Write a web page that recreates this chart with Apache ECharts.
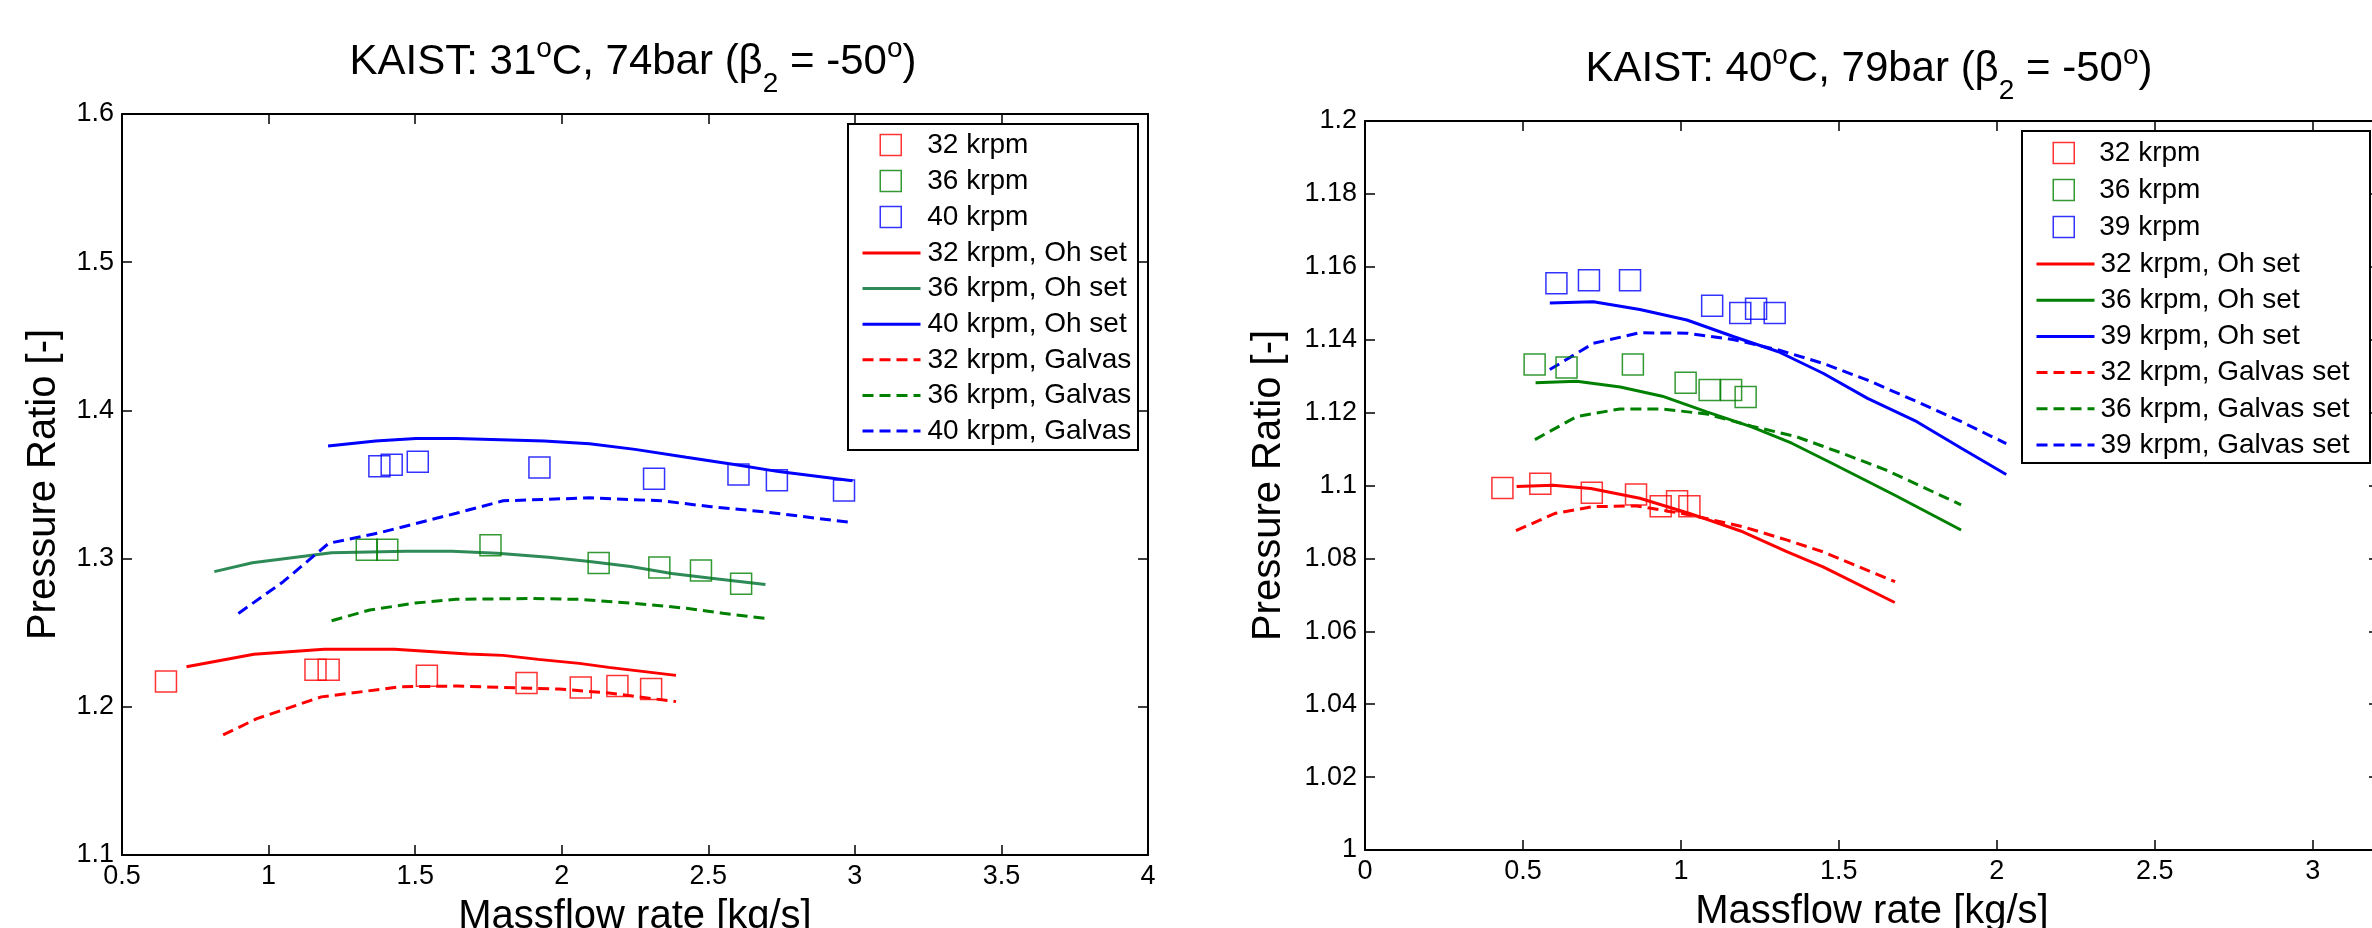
<!DOCTYPE html>
<html><head><meta charset="utf-8">
<script src="https://cdn.jsdelivr.net/npm/echarts@6/dist/echarts.min.js"></script>
<style>html,body{margin:0;padding:0;background:#fff}#c{width:2372px;height:928px}</style>
</head><body><div id="c"></div>
<script>
// ---------- Left chart: KAIST 31°C, 74 bar ----------
const L_exp32 = [[0.65,1.217],[1.16,1.225],[1.205,1.225],[1.54,1.221],[1.88,1.216],[2.065,1.213],[2.19,1.214],[2.305,1.212]];
const L_exp36 = [[1.335,1.306],[1.405,1.306],[1.757,1.309],[2.126,1.297],[2.333,1.294],[2.475,1.292],[2.612,1.283]];
const L_exp40 = [[1.378,1.3623],[1.42,1.3633],[1.509,1.3654],[1.924,1.3614],[2.315,1.3538],[2.603,1.3567],[2.734,1.3528],[2.963,1.346]];
const L_oh32 = [[0.72,1.227],[0.95,1.2355],[1.19,1.2388],[1.43,1.2388],[1.68,1.2356],[1.8,1.2347],[1.92,1.232],[2.06,1.2293],[2.16,1.2266],[2.39,1.2212]];
const L_oh36 = [[0.815,1.2912],[0.945,1.2972],[1.215,1.304],[1.47,1.3049],[1.625,1.3049],[1.78,1.3036],[1.955,1.3009],[2.095,1.298],[2.235,1.2946],[2.375,1.29],[2.51,1.2867],[2.695,1.2826]];
const L_oh40 = [[1.203,1.376],[1.365,1.3794],[1.503,1.381],[1.64,1.381],[1.94,1.3793],[2.095,1.3775],[2.25,1.3737],[2.425,1.3684],[2.6,1.3632],[2.74,1.3587],[2.992,1.3526]];
const L_gal32 = [[0.845,1.181],[0.96,1.192],[1.18,1.2067],[1.45,1.2135],[1.64,1.214],[1.99,1.212],[2.16,1.2093],[2.39,1.2035]];
const L_gal36 = [[1.215,1.2581],[1.345,1.2653],[1.5,1.27],[1.64,1.2725],[1.9,1.2731],[2.06,1.2725],[2.25,1.2698],[2.425,1.2665],[2.55,1.2631],[2.695,1.2597]];
const L_gal40 = [[0.897,1.263],[1.05,1.2844],[1.205,1.3103],[1.38,1.3175],[1.64,1.3306],[1.8,1.339],[2.095,1.341],[2.34,1.339],[2.51,1.335],[2.69,1.3316],[2.993,1.3242]];
const L_names = ['32 krpm','36 krpm','40 krpm','32 krpm, Oh set','36 krpm, Oh set','40 krpm, Oh set','32 krpm, Galvas','36 krpm, Galvas','40 krpm, Galvas'];

// ---------- Right chart: KAIST 40°C, 79 bar ----------
const R_exp32 = [[0.435,1.0993],[0.555,1.1005],[0.718,1.098],[0.858,1.0975],[0.936,1.0943],[0.988,1.0957],[1.027,1.0943]];
const R_exp36 = [[0.537,1.1332],[0.638,1.1324],[0.848,1.1332],[1.015,1.1282],[1.091,1.1262],[1.159,1.1262],[1.205,1.1243]];
const R_exp39 = [[0.606,1.1555],[0.709,1.1563],[0.839,1.1563],[1.099,1.1493],[1.188,1.1473],[1.238,1.1485],[1.297,1.1473]];
const R_oh32 = [[0.48,1.0997],[0.595,1.1001],[0.715,1.0992],[0.87,1.0965],[1.025,1.0924],[1.196,1.0873],[1.337,1.0818],[1.45,1.0777],[1.677,1.0679]];
const R_oh36 = [[0.54,1.1282],[0.67,1.1286],[0.808,1.127],[0.941,1.1245],[1.082,1.1202],[1.224,1.1161],[1.351,1.1116],[1.478,1.1061],[1.676,1.0974],[1.887,1.0878]];
const R_oh39 = [[0.585,1.1501],[0.723,1.1504],[0.87,1.1483],[1.019,1.1454],[1.168,1.1408],[1.309,1.1367],[1.45,1.1308],[1.591,1.1239],[1.747,1.1175],[1.888,1.1102],[2.03,1.103]];
const R_gal32 = [[0.478,1.0876],[0.6,1.0923],[0.72,1.0942],[0.86,1.0944],[1.025,1.092],[1.196,1.0887],[1.337,1.085],[1.45,1.0818],[1.678,1.0736]];
const R_gal36 = [[0.538,1.1126],[0.67,1.1189],[0.807,1.121],[0.941,1.121],[1.082,1.1196],[1.224,1.1163],[1.365,1.1134],[1.506,1.109],[1.648,1.1043],[1.887,1.0947]];
const R_gal39 = [[0.585,1.1318],[0.723,1.139],[0.87,1.1419],[1.019,1.1418],[1.168,1.14],[1.309,1.1372],[1.45,1.1335],[1.591,1.1289],[1.747,1.123],[1.888,1.1175],[2.03,1.1115]];
const R_names = ['32 krpm','36 krpm','39 krpm','32 krpm, Oh set','36 krpm, Oh set','39 krpm, Oh set','32 krpm, Galvas set','36 krpm, Galvas set','39 krpm, Galvas set'];

// titles / axis names
const L_title = ['KAIST: 31','o','C, 74bar (β','2',' = -50','o',')'];
const R_title = ['KAIST: 40','o','C, 79bar (β','2',' = -50','o',')'];
const X_NAME = 'Massflow rate [kg/s]';
const Y_NAME = 'Pressure Ratio [-]';

// ---------- styling ----------
const FONT = '"Liberation Sans", Arial, Helvetica, sans-serif';
const RED = '#ff0000', GREEN = '#008000', SEA = '#2e8b57', BLUE = '#0000ff';
const DASH = [11, 6];

function titleText(parts) {
  const st = ['m','sup','m','sub','m','sup','m'];
  return parts.map((p, i) => '{' + st[i] + '|' + p + '}').join('');
}
const titleRich = {
  m:   {fontSize: 42, fontWeight: 'normal', fontFamily: FONT, color: '#000', lineHeight: 80},
  sup: {fontSize: 28, fontWeight: 'normal', fontFamily: FONT, color: '#000', lineHeight: 80, padding: [0,0,26,0]},
  sub: {fontSize: 28, fontWeight: 'normal', fontFamily: FONT, color: '#000', lineHeight: 80, padding: [44,0,0,0]}
};

const axLine = {show: true, onZero: false, lineStyle: {color: '#000', width: 2}};
const axTick = {show: true, inside: true, length: 10, lineStyle: {color: '#000', width: 1.5}};
const axLabel = {fontSize: 27, color: '#000', fontFamily: FONT, margin: 8};

function xAx(grid, min, max, pos, withLabels, nameGap) {
  const a = {type: 'value', gridIndex: grid, min: min, max: max, interval: 0.5, position: pos,
    axisLine: axLine, axisTick: axTick, splitLine: {show: false},
    axisLabel: withLabels ? Object.assign({}, axLabel, {
      formatter: v => (Math.abs(v * 2 - Math.round(v * 2)) < 1e-6 ? String(+v.toFixed(2)) : '')
    }) : {show: false}};
  if (withLabels) {
    a.name = X_NAME; a.nameLocation = 'middle'; a.nameGap = nameGap;
    a.nameTextStyle = {fontSize: 40, fontFamily: FONT, color: '#000'};
  }
  return a;
}
function yAx(grid, min, max, interval, pos, withLabels, nameGap) {
  const a = {type: 'value', gridIndex: grid, min: min, max: max, interval: interval, position: pos,
    axisLine: axLine, axisTick: axTick, splitLine: {show: false},
    axisLabel: withLabels ? Object.assign({}, axLabel, {
      formatter: v => String(+v.toFixed(3))
    }) : {show: false}};
  if (withLabels) {
    a.name = Y_NAME; a.nameLocation = 'middle'; a.nameGap = nameGap;
    a.nameTextStyle = {fontSize: 40, fontFamily: FONT, color: '#000'};
  }
  return a;
}

function scatterS(name, data, color, axis, size) {
  return {type: 'scatter', name: name, data: data, xAxisIndex: axis, yAxisIndex: axis,
    symbol: 'rect', symbolSize: size,
    itemStyle: {color: 'rgba(0,0,0,0)', borderColor: color, borderWidth: 1.5},
    emphasis: {disabled: true}, z: 3};
}
function lineS(name, data, color, dashed, axis) {
  return {type: 'line', name: name, data: data, xAxisIndex: axis, yAxisIndex: axis,
    symbol: 'none', showSymbol: false,
    lineStyle: {color: color, width: 3, type: dashed ? DASH : 'solid'},
    itemStyle: {color: color}, emphasis: {disabled: true}, z: 2};
}

const Lp = n => 'L:' + n, Rp = n => 'R:' + n;
const strip = n => n.replace(/^[LR]:/, '');

const series = [
  scatterS(Lp(L_names[0]), L_exp32, RED, 0, 21),
  scatterS(Lp(L_names[1]), L_exp36, GREEN, 0, 21),
  scatterS(Lp(L_names[2]), L_exp40, BLUE, 0, 21),
  lineS(Lp(L_names[3]), L_oh32, RED, false, 0),
  lineS(Lp(L_names[4]), L_oh36, SEA, false, 0),
  lineS(Lp(L_names[5]), L_oh40, BLUE, false, 0),
  lineS(Lp(L_names[6]), L_gal32, RED, true, 0),
  lineS(Lp(L_names[7]), L_gal36, GREEN, true, 0),
  lineS(Lp(L_names[8]), L_gal40, BLUE, true, 0),
  scatterS(Rp(R_names[0]), R_exp32, RED, 2, 21),
  scatterS(Rp(R_names[1]), R_exp36, GREEN, 2, 21),
  scatterS(Rp(R_names[2]), R_exp39, BLUE, 2, 21),
  lineS(Rp(R_names[3]), R_oh32, RED, false, 2),
  lineS(Rp(R_names[4]), R_oh36, GREEN, false, 2),
  lineS(Rp(R_names[5]), R_oh39, BLUE, false, 2),
  lineS(Rp(R_names[6]), R_gal32, RED, true, 2),
  lineS(Rp(R_names[7]), R_gal36, GREEN, true, 2),
  lineS(Rp(R_names[8]), R_gal39, BLUE, true, 2)
];

const legTxt = pad => ({fontSize: 28, fontFamily: FONT, color: '#000', lineHeight: 30, padding: [0,0,0,pad]});
function scatterLegendData(names, pref, colors) {
  return names.slice(0,3).map((n,i) => ({name: pref(n), itemStyle: {color: 'rgba(0,0,0,0)', borderColor: colors[i], borderWidth: 1.5}}));
}
const hideSym = {opacity: 0, color: 'rgba(0,0,0,0)', borderWidth: 0};

const option = {
  animation: false,
  backgroundColor: '#fff',
  title: [
    {text: titleText(L_title), left: 633, top: 22, textAlign: 'center', padding: 0, textStyle: {fontWeight: 'normal', rich: titleRich}},
    {text: titleText(R_title), left: 1869, top: 29, textAlign: 'center', padding: 0, textStyle: {fontWeight: 'normal', rich: titleRich}}
  ],
  grid: [
    {left: 122, top: 114, width: 1026, height: 741, containLabel: false, outerBoundsMode: 'none'},
    {left: 1365, top: 121, width: 1014, height: 729, containLabel: false, outerBoundsMode: 'none'}
  ],
  xAxis: [
    xAx(0, 0.5, 4, 'bottom', true, 42),
    xAx(0, 0.5, 4, 'top', false),
    xAx(1, 0, 3.21, 'bottom', true, 42),
    xAx(1, 0, 3.21, 'top', false)
  ],
  yAxis: [
    yAx(0, 1.1, 1.6, 0.1, 'left', true, 58),
    yAx(0, 1.1, 1.6, 0.1, 'right', false),
    yAx(1, 1, 1.2, 0.02, 'left', true, 76),
    yAx(1, 1, 1.2, 0.02, 'right', false)
  ],
  legend: [
    {data: scatterLegendData(L_names, Lp, [RED,GREEN,BLUE]), orient: 'vertical', left: 879.5, top: 130, padding: 0,
     itemWidth: 21, itemHeight: 21, itemGap: 6, textStyle: legTxt(21), formatter: strip, selectedMode: false},
    {data: L_names.slice(3).map(Lp), orient: 'vertical', left: 861, top: 238, padding: 0,
     itemWidth: 58, itemHeight: 14, itemGap: 5.6, textStyle: legTxt(2), formatter: strip, selectedMode: false,
     lineStyle: {width: 3}, itemStyle: hideSym},
    {data: scatterLegendData(R_names, Rp, [RED,GREEN,BLUE]), orient: 'vertical', left: 2052.5, top: 138, padding: 0,
     itemWidth: 21, itemHeight: 21, itemGap: 7, textStyle: legTxt(20), formatter: strip, selectedMode: false},
    {data: R_names.slice(3).map(Rp), orient: 'vertical', left: 2035, top: 249, padding: 0,
     itemWidth: 58, itemHeight: 14, itemGap: 6.2, textStyle: legTxt(1), formatter: strip, selectedMode: false,
     lineStyle: {width: 3}, itemStyle: hideSym}
  ],
  graphic: [
    {type: 'rect', shape: {x: 848, y: 124, width: 290, height: 326}, style: {fill: 'rgba(0,0,0,0)', stroke: '#000', lineWidth: 2}, z: 10, silent: true},
    {type: 'rect', shape: {x: 2022, y: 131, width: 348, height: 332}, style: {fill: 'rgba(0,0,0,0)', stroke: '#000', lineWidth: 2}, z: 10, silent: true}
  ],
  series: series
};
const chart = echarts.init(document.getElementById('c'), null, {renderer: 'canvas'});
chart.setOption(option);
</script>
</body></html>
